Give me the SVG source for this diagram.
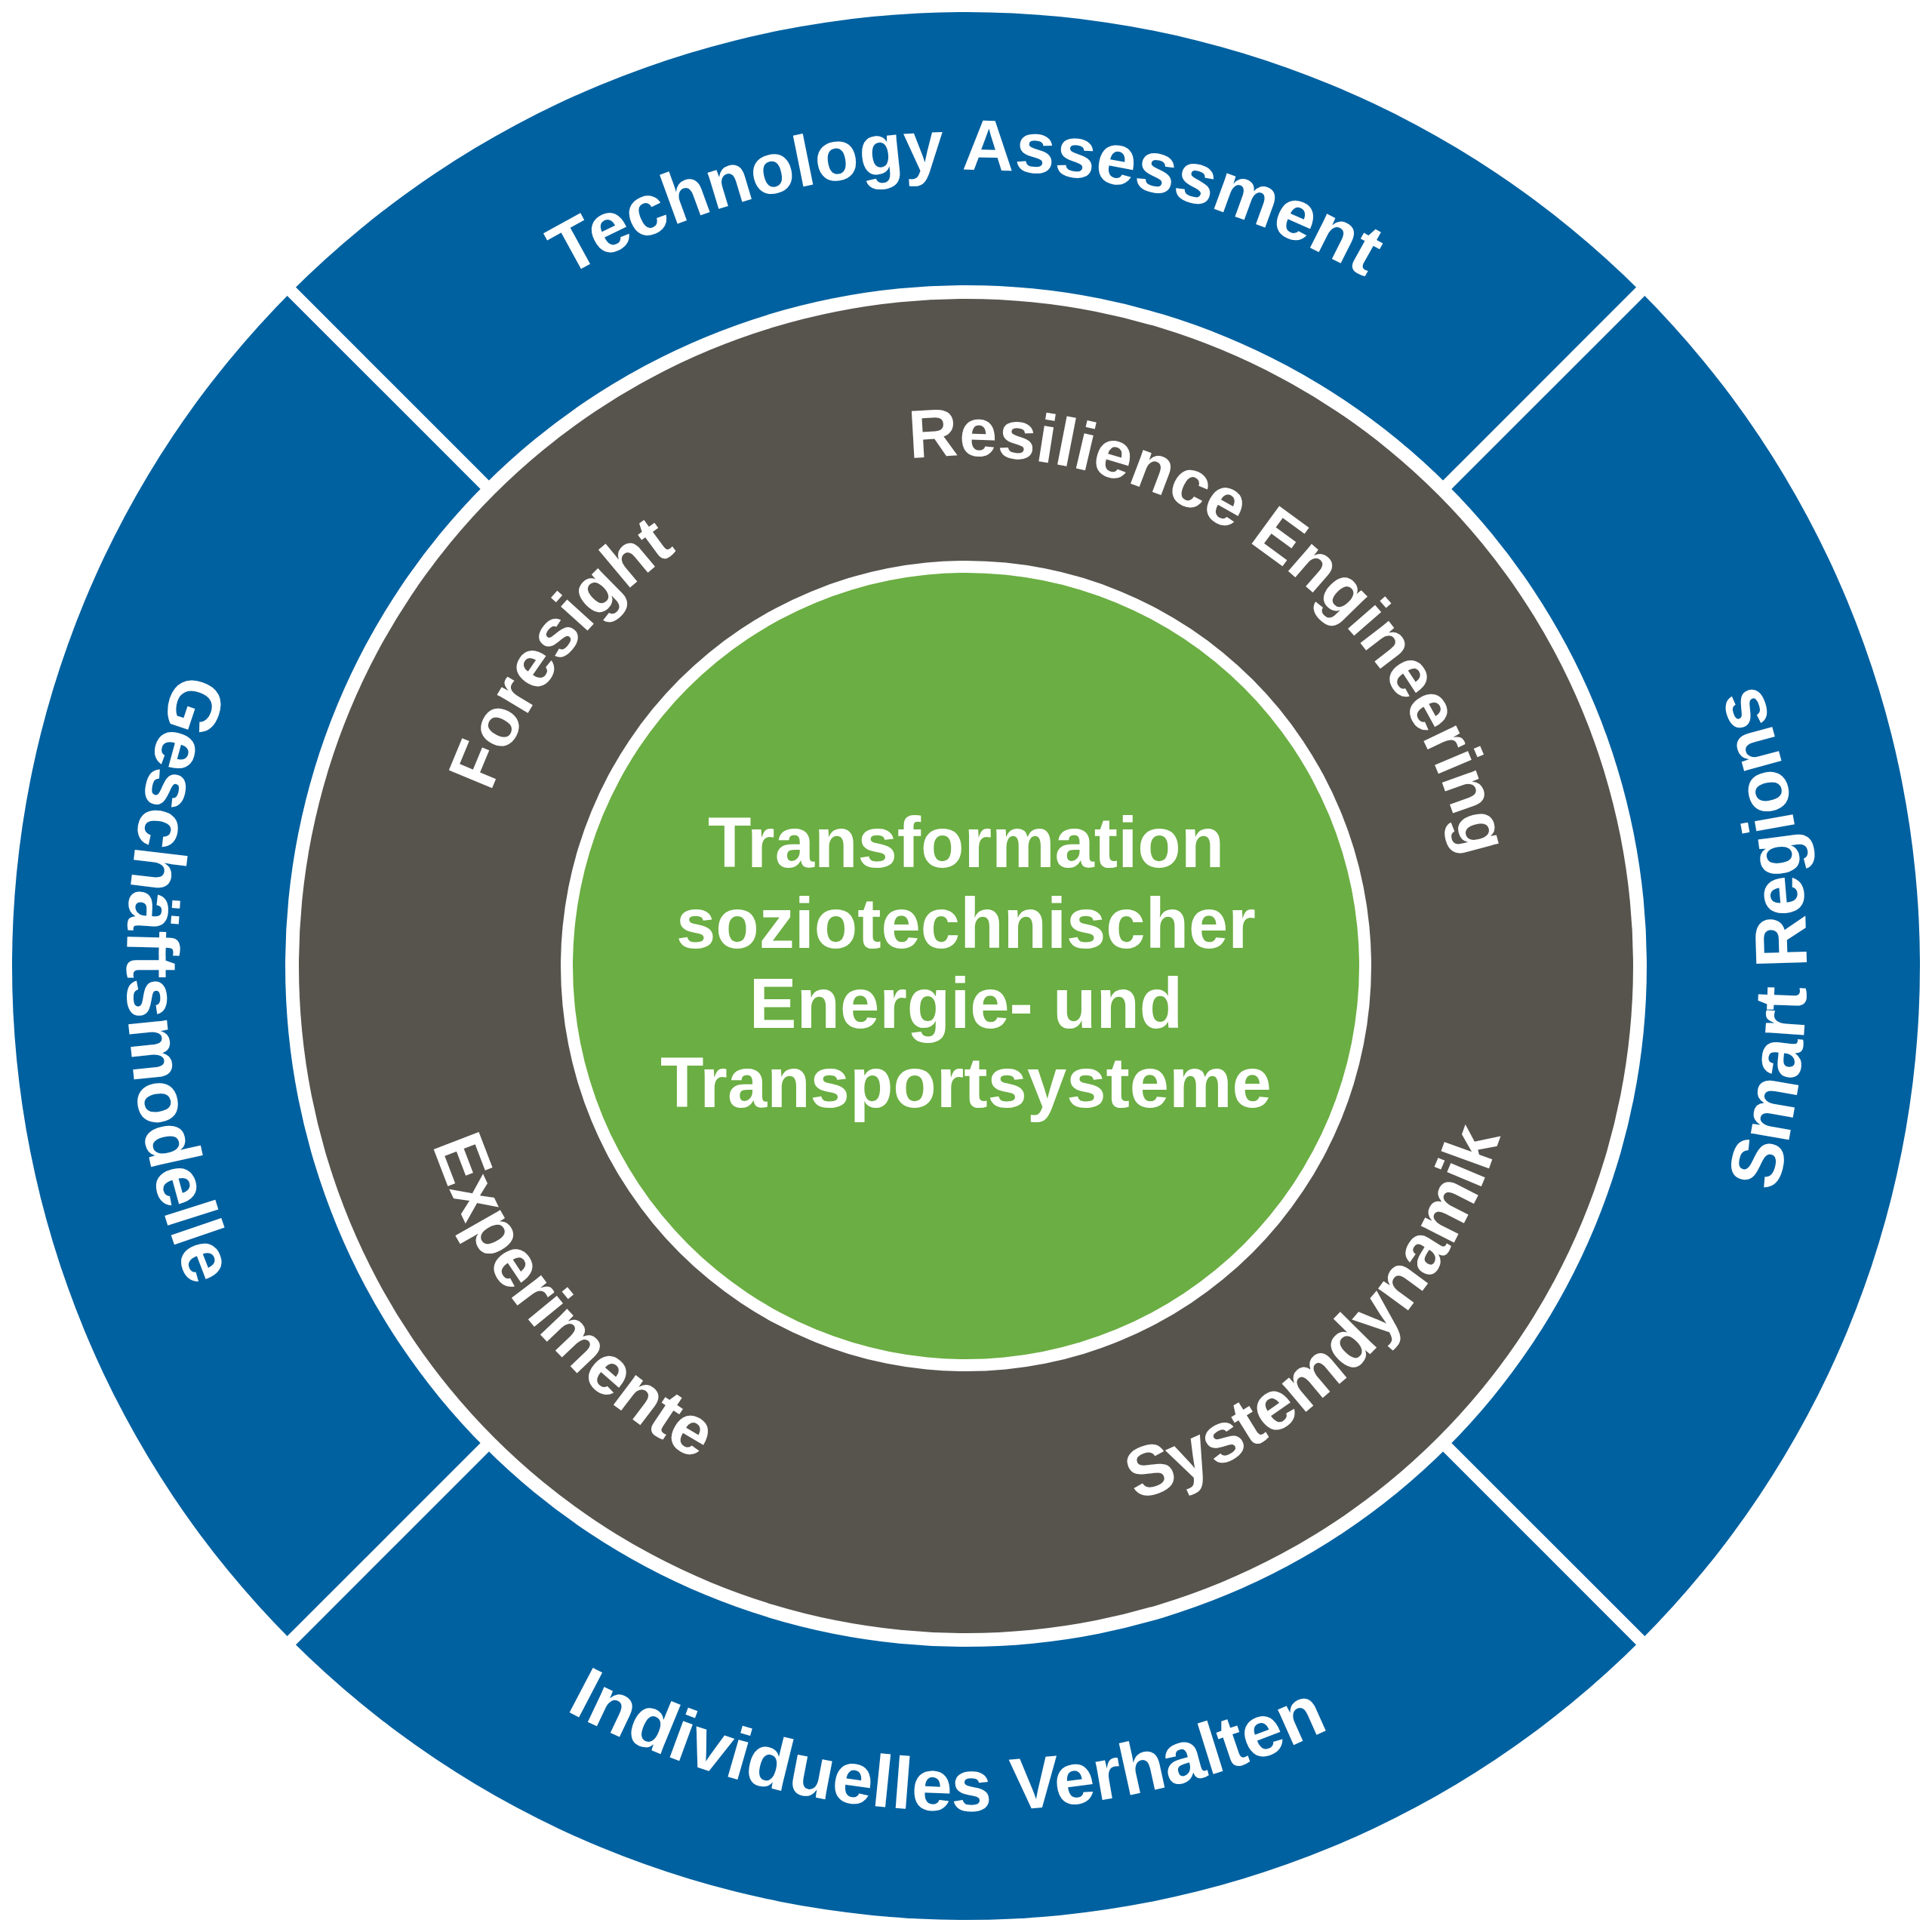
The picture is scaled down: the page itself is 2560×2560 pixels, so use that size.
<svg xmlns="http://www.w3.org/2000/svg" xmlns:xlink="http://www.w3.org/1999/xlink" width="2560" height="2560" viewBox="0 0 2560 2560">
<style>
.lbl{font-family:"Liberation Sans",Arial,Helvetica,sans-serif;font-weight:bold;fill:#ffffff}
.blue{font-size:97px}
.gray{font-size:90px}
.gray2{font-size:93px}
.center{font-size:94px;text-anchor:middle}
</style>
<defs>
<path id="pTA" d="M 225 1280 A 1055 1055 0 0 1 2335 1280"/>
<path id="pSR" d="M 1319.1 2399.3 A 1120 1120 0 0 0 1240.9 160.7"/>
<path id="pGM" d="M 1260.5 160.2 A 1120 1120 0 0 0 1299.5 2399.8"/>
<path id="pIV" d="M 160.3 1252.6 A 1120 1120 0 0 0 2399.7 1307.4"/>
<path id="pRE" d="M 727.8 883.2 A 680 680 0 0 1 1832.2 1676.8"/>
<path id="pFS" d="M 867.6 1815.6 A 676 676 0 0 1 1692.4 744.4"/>
<path id="pEX" d="M 799.2 707 A 748 748 0 0 0 1760.8 1853"/>
<path id="pSD" d="M 751.1 1808.9 A 748 748 0 0 0 1808.9 751.1"/>
</defs>
<rect width="2560" height="2560" fill="#ffffff"/>
<g id="outer-ring">
<circle cx="1280" cy="1280" r="1264" fill="#0061a0"/>
</g>
<g id="connectors">
<line x1="380" y1="380" x2="2180" y2="2180" stroke="#ffffff" stroke-width="16"/>
<line x1="2180" y1="380" x2="380" y2="2180" stroke="#ffffff" stroke-width="16"/>
</g>
<g id="middle-ring">
<circle cx="1280" cy="1280" r="902" fill="#ffffff"/>
<circle cx="1280" cy="1280" r="884" fill="#57544e"/>
</g>
<g id="core">
<circle cx="1280" cy="1280" r="537" fill="#ffffff"/>
<circle cx="1280" cy="1280" r="521" fill="#6bae43"/>
<text class="lbl center" x="1280" y="1149">Transformation</text>
<text class="lbl center" x="1280" y="1256">soziotechnischer</text>
<text class="lbl center" x="1280" y="1362">Energie- und</text>
<text class="lbl center" x="1280" y="1467">Transportsysteme</text>
</g>
<g id="node-technology-assessment">
<text class="lbl blue" style="font-size:95px"><textPath xlink:href="#pTA" href="#pTA" startOffset="50%" text-anchor="middle">Technology Assessment</textPath></text>
</g>
<g id="node-smart-regions">
<text class="lbl blue"><textPath xlink:href="#pSR" href="#pSR" startOffset="50%" text-anchor="middle">Smart Regions</textPath></text>
</g>
<g id="node-geschaeftsmodelle">
<text class="lbl blue"><textPath xlink:href="#pGM" href="#pGM" startOffset="50%" text-anchor="middle">Geschäftsmodelle</textPath></text>
</g>
<g id="node-individuelles-verhalten">
<text class="lbl blue"><textPath xlink:href="#pIV" href="#pIV" startOffset="50%" text-anchor="middle">Individuelles Verhalten</textPath></text>
</g>
<g id="node-resilience-engineering">
<text class="lbl gray"><textPath xlink:href="#pRE" href="#pRE" startOffset="50%" text-anchor="middle">Resilience Engineering</textPath></text>
</g>
<g id="node-foresight">
<text class="lbl gray"><textPath xlink:href="#pFS" href="#pFS" startOffset="50%" text-anchor="middle">Foresight</textPath></text>
</g>
<g id="node-experimente">
<text class="lbl gray2"><textPath xlink:href="#pEX" href="#pEX" startOffset="50%" text-anchor="middle">Experimente</textPath></text>
</g>
<g id="node-systemdynamik">
<text class="lbl gray2"><textPath xlink:href="#pSD" href="#pSD" startOffset="50%" text-anchor="middle">Systemdynamik</textPath></text>
</g>
</svg>
